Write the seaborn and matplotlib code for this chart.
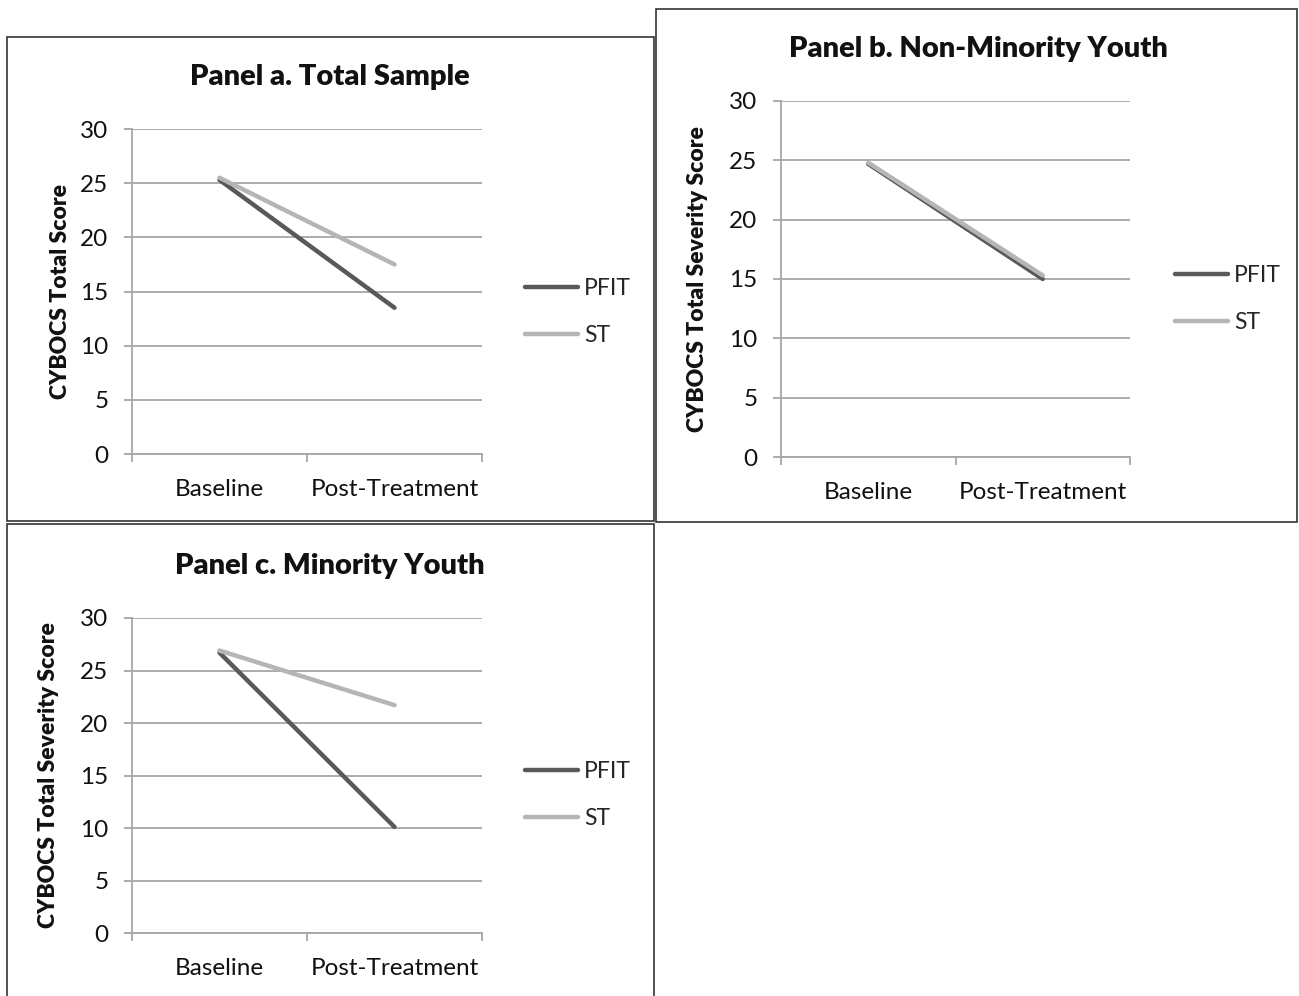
import pandas as pd
import numpy as np
import seaborn as sns
import matplotlib.pyplot as plt
from matplotlib.patches import Rectangle

# values
timepoints = ["Baseline", "Post-Treatment"]
groups = ["PFIT", "ST"]
total_pfit = [25.3, 13.5]
total_st = [25.5, 17.5]
nonmin_pfit = [24.7, 15.0]
nonmin_st = [24.8, 15.3]
min_pfit = [26.7, 10.1]
min_st = [26.9, 21.7]

titles = ["Panel a. Total Sample", "Panel b. Non-Minority Youth", "Panel c. Minority Youth"]
ylabels = ["CYBOCS Total Score", "CYBOCS Total Severity Score", "CYBOCS Total Severity Score"]
yticks = [0, 5, 10, 15, 20, 25, 30]

sns.set_theme(style="white")
plt.rcParams['font.family'] = ['Lato', 'DejaVu Sans']

palette = {"PFIT": "#595959", "ST": "#b5b5b5"}
grid_c = "#a6a6a6"
txt_c = "#111111"

def long_df(pfit, st):
    rows = []
    for g, vals in zip(groups, [pfit, st]):
        for t, v in zip(timepoints, vals):
            rows.append({"time": t, "group": g, "score": v})
    return pd.DataFrame(rows)

data = [long_df(total_pfit, total_st), long_df(nonmin_pfit, nonmin_st), long_df(min_pfit, min_st)]

W, H = 1299, 996
fig = plt.figure(figsize=(W / 100, H / 100), dpi=100)

def px_axes(x0, x1, ytop, ybot):
    return fig.add_axes([x0 / W, 1 - ybot / H, (x1 - x0) / W, (ybot - ytop) / H])

axes = [px_axes(132, 482, 129, 454), px_axes(781, 1130, 101, 457), px_axes(132, 482, 618, 933)]
# title positions (px) and legend anchors (px) and ylabel x (px)
title_xy = [(330, 77), (978, 49), (330, 566)]
legend_xy = [(514, 312), (1164, 299), (514, 795)]
ylab_x = [71, 708, 59]

# panel frames
for (x0, y0, x1, y1) in [(7, 37, 654, 521), (656, 9, 1297, 522), (7, 524, 654, 1010)]:
    fig.add_artist(Rectangle((x0 / W, 1 - y1 / H), (x1 - x0) / W, (y1 - y0) / H,
                             transform=fig.transFigure, fill=False, edgecolor="#333333", lw=1.2))

for i, ax in enumerate(axes):
    sns.lineplot(data=data[i], x="time", y="score", hue="group", palette=palette,
                 linewidth=3.2, ax=ax, sort=False, zorder=3)
    ax.set_xlim(-0.5, 1.5)
    ax.set_ylim(0, 30)
    ax.set_yticks(yticks)
    ax.yaxis.grid(True, color=grid_c, lw=1.3)
    ax.set_axisbelow(True)
    for s in ["top", "right"]:
        ax.spines[s].set_visible(False)
    for s in ["left", "bottom"]:
        ax.spines[s].set_color(grid_c)
        ax.spines[s].set_linewidth(1.3)
    ax.set_xticks([-0.5, 0.5, 1.5])
    ax.set_xticklabels([])
    ax.set_xticks([0, 1], minor=True)
    ax.set_xticklabels(timepoints, minor=True)
    ax.tick_params(axis="x", which="major", length=6, color=grid_c, width=1.3, direction="out", bottom=True)
    ax.tick_params(axis="x", which="minor", length=0, pad=18, labelsize=17.5, labelcolor=txt_c)
    ax.tick_params(axis="y", length=6, color=grid_c, width=1.3, direction="out", left=True,
                   labelsize=17.5, labelcolor=txt_c, pad=11)
    ax.set_xlabel("")
    ax.set_ylabel(ylabels[i], fontsize=16.5, fontweight="heavy", color=txt_c)
    ax.yaxis.set_label_coords((ylab_x[i] - ax.get_position().x0 * W) / (ax.get_position().width * W), 0.5)
    tx, ty = title_xy[i]
    fig.text(tx / W, 1 - ty / H, titles[i], ha="center", va="center",
             fontsize=21, fontweight="heavy", color=txt_c)
    lx, ly = legend_xy[i]
    ax.legend(title=None, loc="center left", bbox_to_anchor=(lx / W, 1 - ly / H),
              bbox_transform=fig.transFigure, frameon=False, fontsize=16.5,
              handlelength=2.3, handletextpad=0.25, labelspacing=1.15, borderpad=0)

fig.savefig("out.png", dpi=100)
